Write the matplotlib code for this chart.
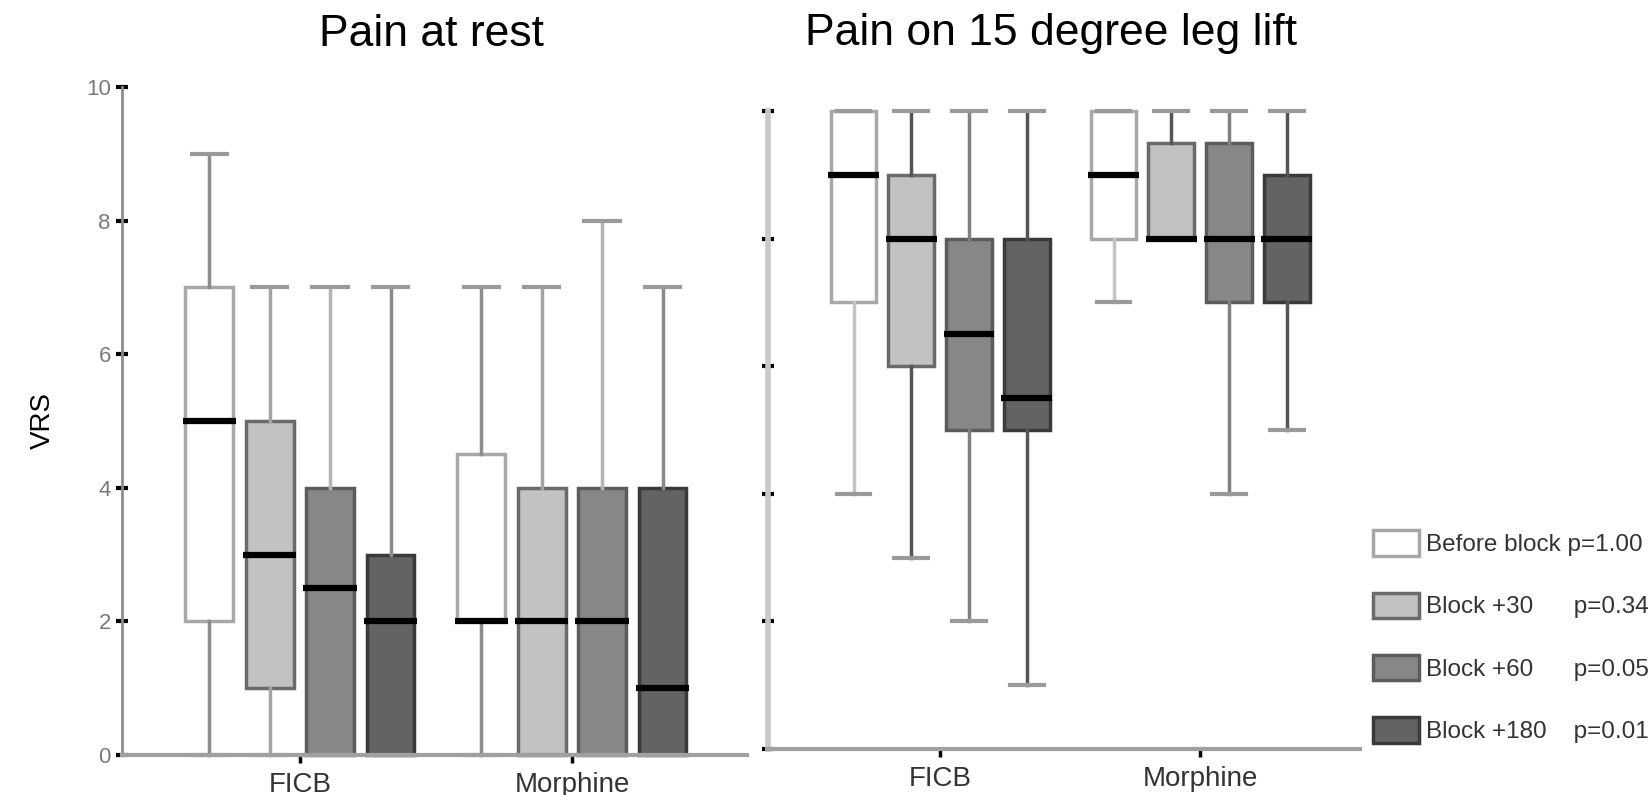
import matplotlib
matplotlib.use("Agg")
import matplotlib.pyplot as plt
from matplotlib.patches import Patch

plt.rcParams["font.family"] = ["Liberation Sans", "DejaVu Sans"]

# ------------------------------------------------------------
# data (VRS scores, 0-10)
# ------------------------------------------------------------
groups = ["FICB", "Morphine"]
series = ["Before block", "Block +30", "Block +60", "Block +180"]
p_values = ["p=1.00", "p=0.34", "p=0.05", "p=0.01"]

# pain at rest: one list per series, values for [FICB, Morphine]
rest_whislo = [[0, 0], [0, 0], [0, 0], [0, 0]]
rest_q1 = [[2, 2], [1, 0], [0, 0], [0, 0]]
rest_med = [[5, 2], [3, 2], [2.5, 2], [2, 1]]
rest_q3 = [[7, 4.5], [5, 4], [4, 4], [3, 4]]
rest_whishi = [[9, 7], [7, 7], [7, 8], [7, 7]]

# pain on 15 degree leg lift
lift_whislo = [[4, 7], [3, 8], [2, 4], [1, 5]]
lift_q1 = [[7, 8], [6, 8], [5, 7], [5, 7]]
lift_med = [[9, 9], [8, 8], [6.5, 8], [5.5, 8]]
lift_q3 = [[10, 10], [9, 9.5], [8, 9.5], [8, 9]]
lift_whishi = [[10, 10], [10, 10], [10, 10], [10, 10]]

yticks = [0, 2, 4, 6, 8, 10]

# styling per series
fills = ["#ffffff", "#c2c2c2", "#878787", "#636363"]
edges = ["#a8a8a8", "#6a6a6a", "#5c5c5c", "#3a3a3a"]
rest_whisker_cols = ["#8c8c8c", "#a4a4a4", "#b4b4b4", "#8a8a8a"]
lift_whisker_cols = ["#c4c4c4", "#555555", "#808080", "#555555"]
offsets = [-0.333, -0.111, 0.111, 0.333]
box_w = 0.176
cap_w = 0.13


def draw_panel(ax, whislo, q1, med, q3, whishi, whisker_cols):
    for i in range(len(series)):
        stats = []
        for g in range(len(groups)):
            stats.append({
                "whislo": whislo[i][g], "q1": q1[i][g], "med": med[i][g],
                "q3": q3[i][g], "whishi": whishi[i][g], "fliers": [],
            })
        pos = [g + 1 + offsets[i] for g in range(len(groups))]
        art = ax.bxp(stats, positions=pos, widths=box_w, capwidths=cap_w,
                     patch_artist=True, showfliers=False, manage_ticks=False,
                     boxprops=dict(facecolor=fills[i], edgecolor=edges[i], linewidth=2.5),
                     medianprops=dict(color="black", linewidth=4.5, solid_capstyle="butt"),
                     whiskerprops=dict(color=whisker_cols[i], linewidth=2.5),
                     capprops=dict(color="#9a9a9a", linewidth=3))
        for a in art["boxes"] + art["medians"] + art["whiskers"] + art["caps"]:
            a.set_clip_on(False)
        for m in art["medians"]:
            x0, x1 = m.get_xdata()[0], m.get_xdata()[1]
            m.set_xdata([x0 - 0.01, x1 + 0.01])
    ax.set_xticks([1, 2])
    ax.set_xticklabels(groups, fontsize=20, color="#333333")
    ax.set_ylim(0, 10)
    ax.set_yticks(yticks)
    for s in ["top", "right"]:
        ax.spines[s].set_visible(False)
    ax.spines["bottom"].set_color("#a0a0a0")
    ax.spines["bottom"].set_linewidth(3)
    ax.tick_params(axis="x", direction="out", length=6, width=2.5, color="black", pad=6)
    ax.tick_params(axis="y", direction="inout", length=9, width=3, color="black")


fig = plt.figure(figsize=(16.52, 7.95), dpi=100)

# left panel
ax1 = fig.add_axes([0.0738, 0.0503, 0.3783, 0.8403])
draw_panel(ax1, rest_whislo, rest_q1, rest_med, rest_q3, rest_whishi, rest_whisker_cols)
ax1.set_xlim(0.3456, 2.643)
ax1.set_yticklabels([str(t) for t in yticks], fontsize=16, color="#7a7a7a")
ax1.spines["left"].set_color("#8c8c8c")
ax1.spines["left"].set_linewidth(2)
ax1.set_ylabel("VRS", fontsize=20, labelpad=22)
fig.text(0.2615, 0.957, "Pain at rest", fontsize=32, ha="center", va="center")

# right panel
ax2 = fig.add_axes([0.4649, 0.0579, 0.3584, 0.8025])
draw_panel(ax2, lift_whislo, lift_q1, lift_med, lift_q3, lift_whishi, lift_whisker_cols)
ax2.set_xlim(0.338, 2.615)
ax2.set_yticklabels([])
ax2.spines["left"].set_color("#c8c8c8")
ax2.spines["left"].set_linewidth(4)
fig.text(0.636, 0.958, "Pain on 15 degree leg lift", fontsize=32, ha="center", va="center")

# legend
pads = ["", "     ", "     ", "   "]
labels = [f"{s} {pad}{p}" for s, pad, p in zip(series, pads, p_values)]
handles = [Patch(facecolor=fills[i], edgecolor=edges[i], linewidth=2.5) for i in range(len(series))]
fig.legend(handles, labels, loc="upper left", bbox_to_anchor=(0.8311, 0.3330),
           frameon=False, fontsize=17.5, handlelength=1.9, handleheight=1.23,
           handletextpad=0.3, labelspacing=1.5, borderpad=0, borderaxespad=0,
           labelcolor="#333333")

fig.savefig("out.png", dpi=100)
